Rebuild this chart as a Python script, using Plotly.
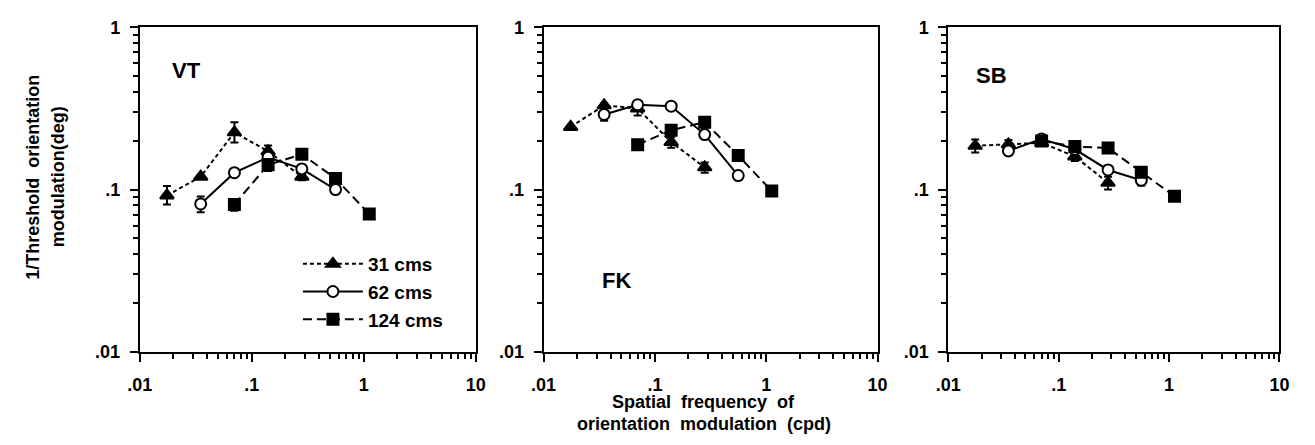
import plotly.graph_objects as go

# ---- data ----
subjects = ["VT", "FK", "SB"]
series_names = ["31 cms", "62 cms", "124 cms"]

freq_31 = [0.0175, 0.035, 0.07, 0.14, 0.28]
freq_62 = [0.035, 0.07, 0.14, 0.28, 0.56]
freq_124 = [0.07, 0.14, 0.28, 0.56, 1.12]

vt_31 = [0.092, 0.12, 0.225, 0.172, 0.12]
vt_62 = [0.0815, 0.127, 0.158, 0.134, 0.10]
vt_124 = [0.081, 0.142, 0.165, 0.117, 0.0706]
vt_31_err_p = [0.013, 0.0, 0.035, 0.015, 0.006]
vt_31_err_m = [0.011, 0.0, 0.03, 0.01, 0.006]
vt_62_err_p = [0.009, 0.0, 0.0, 0.0, 0.004]
vt_62_err_m = [0.009, 0.0, 0.0, 0.0, 0.004]
vt_124_err_p = [0.006, 0.012, 0.008, 0.0, 0.0]
vt_124_err_m = [0.007, 0.012, 0.008, 0.0, 0.0]

fk_31 = [0.243, 0.33, 0.316, 0.196, 0.137]
fk_62 = [0.29, 0.333, 0.326, 0.218, 0.122]
fk_124 = [0.189, 0.232, 0.26, 0.162, 0.098]
fk_31_err_p = [0.0, 0.01, 0.02, 0.015, 0.01]
fk_31_err_m = [0.0, 0.01, 0.03, 0.015, 0.01]
fk_62_err_p = [0.0, 0.015, 0.0, 0.0, 0.0]
fk_62_err_m = [0.025, 0.0, 0.0, 0.0, 0.0]
fk_124_err_p = [0.0, 0.015, 0.02, 0.0, 0.006]
fk_124_err_m = [0.0, 0.015, 0.02, 0.0, 0.006]

sb_31 = [0.186, 0.19, 0.194, 0.16, 0.11]
sb_62 = [0.173, 0.205, 0.177, 0.132, 0.114]
sb_124 = [0.199, 0.184, 0.18, 0.128, 0.091]
sb_31_err_p = [0.017, 0.012, 0.0, 0.01, 0.01]
sb_31_err_m = [0.017, 0.012, 0.0, 0.01, 0.01]
sb_62_err_p = [0.0, 0.0, 0.0, 0.0, 0.0]
sb_62_err_m = [0.01, 0.0, 0.0, 0.0, 0.008]
sb_124_err_p = [0.0, 0.0, 0.0, 0.0, 0.005]
sb_124_err_m = [0.0, 0.0, 0.0, 0.0, 0.005]

x_tickvals = [0.01, 0.1, 1, 10]
x_ticktext = [".01", ".1", "1", "10"]
y_tickvals = [0.01, 0.1, 1]
y_ticktext = [".01", ".1", "1"]

y_title_lines = ["1/Threshold  orientation", "modulation(deg)"]
x_title_lines = ["Spatial  frequency  of", "orientation  modulation  (cpd)"]

panels = [
    (vt_31, vt_62, vt_124, vt_31_err_p, vt_31_err_m, vt_62_err_p, vt_62_err_m, vt_124_err_p, vt_124_err_m),
    (fk_31, fk_62, fk_124, fk_31_err_p, fk_31_err_m, fk_62_err_p, fk_62_err_m, fk_124_err_p, fk_124_err_m),
    (sb_31, sb_62, sb_124, sb_31_err_p, sb_31_err_m, sb_62_err_p, sb_62_err_m, sb_124_err_p, sb_124_err_m),
]

FONT = "Liberation Sans, Arial, sans-serif"
W, H = 1315, 445
x_domains = [(129 / W, 471 / W), (540 / W, 880 / W), (952 / W, 1289 / W)]
y_domain = (1 - 358 / H, 1 - 18 / H)

styles = [
    dict(symbol="triangle-up", dash="4px,3px", fill="black"),
    dict(symbol="circle", dash="solid", fill="white"),
    dict(symbol="square", dash="9px,5px", fill="black"),
]
freqs = [freq_31, freq_62, freq_124]

fig = go.Figure()
for p, pdata in enumerate(panels):
    xa = "x" if p == 0 else f"x{p+1}"
    ya = "y" if p == 0 else f"y{p+1}"
    vals = pdata[0:3]
    errs = [(pdata[3], pdata[4]), (pdata[5], pdata[6]), (pdata[7], pdata[8])]
    for s in range(3):
        st = styles[s]
        fig.add_trace(go.Scatter(
            x=freqs[s], y=vals[s], mode="lines+markers",
            name=series_names[s], showlegend=(p == 0),
            line=dict(color="black", width=2, dash=st["dash"]),
            marker=dict(symbol=st["symbol"], size=11 if s != 0 else 12,
                        color=st["fill"], line=dict(color="black", width=2)),
            error_y=dict(type="data", symmetric=False, array=errs[s][0],
                         arrayminus=errs[s][1], color="black", thickness=2, width=4),
            xaxis=xa, yaxis=ya,
        ))
    axis_common = dict(type="log", showline=True, mirror=True, linecolor="black",
                       linewidth=2, showgrid=False, zeroline=False, ticks="outside",
                       tickcolor="black", tickwidth=2, ticklen=8,
                       tickfont=dict(family=FONT, size=18, color="black", weight="bold"),
                       minor=dict(ticks="outside", ticklen=5, tickwidth=1.5, dtick="D1",
                                  tickcolor="black", showgrid=False))
    fig.layout[("xaxis" if p == 0 else f"xaxis{p+1}")] = dict(
        **axis_common, domain=list(x_domains[p]), range=[-2, 1],
        tickvals=x_tickvals, ticktext=x_ticktext, anchor=ya, ticklabelstandoff=7)
    fig.layout[("yaxis" if p == 0 else f"yaxis{p+1}")] = dict(
        **axis_common, domain=list(y_domain), range=[-2, 0],
        tickvals=y_tickvals, ticktext=y_ticktext, anchor=xa, ticklabelstandoff=6)

label_pos = [(177 / W, 1 - 63 / H), (614 / W, 1 - 283 / H), (996 / W, 1 - 69 / H)]
for name, (lx, ly) in zip(subjects, label_pos):
    fig.add_annotation(x=lx, y=ly, xref="paper", yref="paper", text=name,
                       xanchor="center", yanchor="middle", showarrow=False,
                       font=dict(family=FONT, size=22, color="black", weight="bold"))

for line, px in zip(y_title_lines, [21, 46]):
    fig.add_annotation(x=px / W, y=1 - 175 / H, xref="paper", yref="paper", textangle=-90,
                       xanchor="center", yanchor="middle", text=line, showarrow=False,
                       font=dict(family=FONT, size=18, color="black", weight="bold"))
for line, py in zip(x_title_lines, [410, 433]):
    fig.add_annotation(x=703 / W, y=1 - py / H, xref="paper", yref="paper",
                       xanchor="center", yanchor="middle", text=line, showarrow=False,
                       font=dict(family=FONT, size=18, color="black", weight="bold"))

fig.update_layout(
    width=W, height=H, margin=dict(l=0, r=0, t=0, b=0),
    paper_bgcolor="white", plot_bgcolor="white",
    legend=dict(x=290 / W, y=1 - 246 / H, xanchor="left", yanchor="top",
                bgcolor="rgba(0,0,0,0)", itemwidth=60, tracegroupgap=0,
                font=dict(family=FONT, size=19, color="black", weight="bold")),
)

fig.write_html("out.html")
